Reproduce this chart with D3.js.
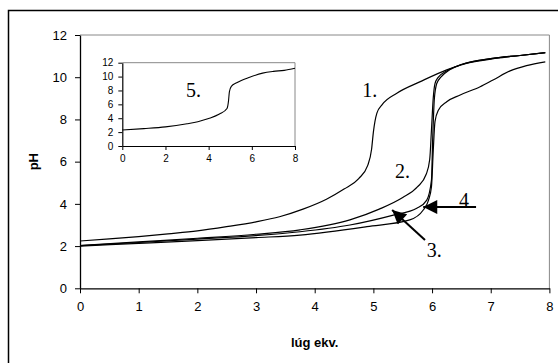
<!DOCTYPE html>
<html>
<head>
<meta charset="utf-8">
<script src="https://cdn.jsdelivr.net/npm/d3@7"></script>
<style>
  body { margin: 0; background: #fff; }
  svg { display: block; }
  .tick text { font-family: "Liberation Sans", Arial, sans-serif; fill: #000; }
  .num { font-family: "Liberation Serif", "Times New Roman", serif; font-size: 20px; fill: #000; }
</style>
</head>
<body>
<div class="chart"></div>
<script>

// Titration curves (pH vs. lúg ekv.)
var x1 = [0, 0.5, 1, 1.5, 2, 2.5, 3, 3.4, 3.8, 4.2, 4.5, 4.75, 4.9, 4.97, 5.0, 5.06, 5.15, 5.4, 5.8, 6.25, 6.6, 7.1, 7.5, 7.93];
var y1 = [2.24, 2.34, 2.45, 2.58, 2.72, 2.92, 3.15, 3.39, 3.75, 4.22, 4.7, 5.2, 5.8, 6.6, 7.4, 8.3, 8.7, 9.24, 9.79, 10.35, 10.66, 10.9, 11.03, 11.16];

var x2 = [0, 1, 2, 3, 3.75, 4.6, 5.1, 5.5, 5.75, 5.9, 5.96, 5.99, 6.02, 6.05, 6.1, 6.25, 6.5, 7.0, 7.5, 7.93];
var y2 = [2.02, 2.2, 2.37, 2.56, 2.77, 3.24, 3.75, 4.3, 4.8, 5.4, 6.1, 7.5, 9.0, 9.7, 9.98, 10.3, 10.6, 10.88, 11.03, 11.16];

var x3 = [0, 1, 2, 3, 3.75, 4.6, 5.34, 5.74, 5.91, 5.99, 6.01, 6.04, 6.08, 6.15, 6.3, 6.5, 7.0, 7.5, 7.93];
var y3 = [2.02, 2.17, 2.33, 2.5, 2.68, 3.0, 3.47, 3.79, 4.18, 5.13, 7.0, 9.0, 9.7, 10.0, 10.35, 10.6, 10.88, 11.03, 11.16];

var x4 = [0, 1, 2, 3, 3.75, 4.89, 5.62, 5.85, 5.94, 5.99, 6.02, 6.05, 6.11, 6.25, 6.48, 6.82, 7.04, 7.33, 7.61, 7.93];
var y4 = [2.0, 2.13, 2.26, 2.4, 2.52, 2.92, 3.24, 3.71, 4.18, 4.81, 6.5, 7.9, 8.45, 8.84, 9.16, 9.55, 9.87, 10.3, 10.55, 10.73];

// inset curve 5.
var x5 = [0, 1, 2, 3, 3.5, 4, 4.5, 4.85, 4.92, 4.96, 5.05, 5.3, 5.9, 6.5, 7.0, 7.5, 8];
var y5 = [2.3, 2.5, 2.75, 3.2, 3.5, 3.95, 4.6, 5.4, 6.5, 7.8, 8.6, 9.1, 9.9, 10.5, 10.75, 10.9, 11.2];

var xTicks = [0, 1, 2, 3, 4, 5, 6, 7, 8];
var yTicks = [0, 2, 4, 6, 8, 10, 12];
var insetXTicks = [0, 2, 4, 6, 8];
var insetYTicks = [0, 2, 4, 6, 8, 10, 12];

var xTitle = "lúg ekv.";
var yTitle = "pH";

// curve labels, in data units of the main chart
var mainLabels = [
    { text: "1.", x: 4.81, y: 9.07 },
    { text: "2.", x: 5.37, y: 5.23 },
    { text: "3.", x: 5.91, y: 1.48 },
    { text: "4", x: 6.46, y: 3.85 }
];
var arrows = [
    { x0: 6.75, y0: 3.85, x1: 5.85, y1: 3.85 },
    { x0: 5.88, y0: 2.29, x1: 5.32, y1: 3.71 }
];
var insetLabel = { text: "5.", x: 2.95, y: 7.06 };

var width = 558,
    height = 363;

var svg = d3.select(".chart")
    .append("svg")
      .attr("width", width)
      .attr("height", height);

// arrow head
svg.append("defs").append("marker")
    .attr("id", "head")
    .attr("viewBox", "0 0 10 10")
    .attr("refX", 10)
    .attr("refY", 5)
    .attr("markerUnits", "userSpaceOnUse")
    .attr("markerWidth", 17)
    .attr("markerHeight", 14)
    .attr("orient", "auto")
  .append("path")
    .attr("d", "M0,0L10,5L0,10Z")
    .attr("fill", "#000");

// outer frame
svg.append("rect")
    .attr("x", 8.5)
    .attr("y", 10.5)
    .attr("width", 600)
    .attr("height", 400)
    .attr("fill", "none")
    .attr("stroke", "#000")
    .attr("stroke-width", 1.5);

// Main chart scales
var x = d3.scaleLinear().domain([0, 8]).range([80, 549.4]);
var y = d3.scaleLinear().domain([0, 12]).range([288.3, 35]);

// plot area border (top + right in gray)
svg.append("path")
    .attr("d", "M" + x(0) + "," + y(12) + "H" + x(8) + "V" + y(0))
    .attr("fill", "none")
    .attr("stroke", "#888")
    .attr("stroke-width", 1);

var xAxis = svg.append("g")
    .attr("transform", "translate(0," + y(0) + ")")
    .call(d3.axisBottom(x).tickValues(xTicks).tickSize(5).tickSizeOuter(0).tickPadding(8));

var yAxis = svg.append("g")
    .attr("transform", "translate(" + x(0) + ",0)")
    .call(d3.axisLeft(y).tickValues(yTicks).tickSize(5).tickSizeOuter(0).tickPadding(8));

[xAxis, yAxis].forEach(function(g) {
    g.selectAll(".domain").attr("stroke", "#000").attr("stroke-width", 1.3);
    g.selectAll(".tick line").attr("stroke", "#000");
    g.selectAll(".tick text").style("font-size", "13px");
});

svg.append("text")
    .attr("x", (x(0) + x(8)) / 2)
    .attr("y", 347)
    .attr("text-anchor", "middle")
    .style("font-family", "Liberation Sans, Arial, sans-serif")
    .style("font-size", "13px")
    .style("font-weight", "bold")
    .text(xTitle);

svg.append("text")
    .attr("transform", "translate(38," + (y(0) + y(12)) / 2 + ") rotate(-90)")
    .attr("text-anchor", "middle")
    .style("font-family", "Liberation Sans, Arial, sans-serif")
    .style("font-size", "13px")
    .style("font-weight", "bold")
    .text(yTitle);

var line = d3.line()
    .x(function(d) { return x(d[0]); })
    .y(function(d) { return y(d[1]); })
    .curve(d3.curveMonotoneX);

var series = [[x1, y1], [x2, y2], [x3, y3], [x4, y4]];

svg.selectAll(".curve")
    .data(series)
    .enter().append("path")
      .attr("class", "curve")
      .attr("d", function(s) { return line(d3.zip(s[0], s[1])); })
      .attr("fill", "none")
      .attr("stroke", "#000")
      .attr("stroke-width", 1.2);

svg.selectAll(".arrow")
    .data(arrows)
    .enter().append("line")
      .attr("class", "arrow")
      .attr("x1", function(d) { return x(d.x0); })
      .attr("y1", function(d) { return y(d.y0); })
      .attr("x2", function(d) { return x(d.x1); })
      .attr("y2", function(d) { return y(d.y1); })
      .attr("stroke", "#000")
      .attr("stroke-width", 2)
      .attr("marker-end", "url(#head)");

svg.selectAll(".lbl")
    .data(mainLabels)
    .enter().append("text")
      .attr("class", "num")
      .attr("x", function(d) { return x(d.x); })
      .attr("y", function(d) { return y(d.y); })
      .text(function(d) { return d.text; });

// Inset chart
var ix = d3.scaleLinear().domain([0, 8]).range([122.3, 295]);
var iy = d3.scaleLinear().domain([0, 12]).range([146, 62.7]);

svg.append("rect")
    .attr("x", ix(0))
    .attr("y", iy(12))
    .attr("width", ix(8) - ix(0))
    .attr("height", iy(0) - iy(12))
    .attr("fill", "#fff");

svg.append("path")
    .attr("d", "M" + ix(0) + "," + iy(12) + "H" + ix(8) + "V" + iy(0))
    .attr("fill", "none")
    .attr("stroke", "#888")
    .attr("stroke-width", 1);

var ixAxis = svg.append("g")
    .attr("transform", "translate(0," + iy(0) + ")")
    .call(d3.axisBottom(ix).tickValues(insetXTicks).tickSize(4).tickSizeOuter(0).tickPadding(5));

var iyAxis = svg.append("g")
    .attr("transform", "translate(" + ix(0) + ",0)")
    .call(d3.axisLeft(iy).tickValues(insetYTicks).tickSize(4).tickSizeOuter(0).tickPadding(5));

[ixAxis, iyAxis].forEach(function(g) {
    g.selectAll(".domain").attr("stroke", "#000").attr("stroke-width", 1.2);
    g.selectAll(".tick line").attr("stroke", "#000");
    g.selectAll(".tick text").style("font-size", "10px");
});

var iline = d3.line()
    .x(function(d) { return ix(d[0]); })
    .y(function(d) { return iy(d[1]); })
    .curve(d3.curveMonotoneX);

svg.append("path")
    .attr("d", iline(d3.zip(x5, y5)))
    .attr("fill", "none")
    .attr("stroke", "#000")
    .attr("stroke-width", 1.1);

svg.append("text")
    .attr("class", "num")
    .attr("x", ix(insetLabel.x))
    .attr("y", iy(insetLabel.y))
    .text(insetLabel.text);

</script>
</body>
</html>
